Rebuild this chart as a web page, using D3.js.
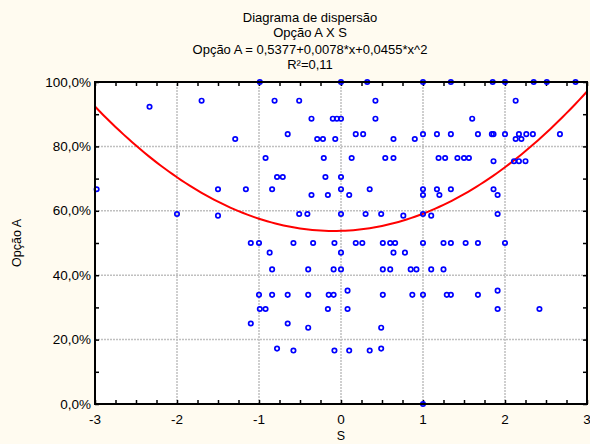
<!DOCTYPE html>
<html>
<head>
<meta charset="utf-8">
<script src="https://cdn.jsdelivr.net/npm/d3@7"></script>
<style>
  body { margin: 0; background: #fffbf0; }
  text { font-family: "Liberation Sans", Arial, sans-serif; font-size: 13.5px; fill: #000; }
</style>
</head>
<body>
<svg id="chart"></svg>
<script>
var width = 590,
    height = 444;

// S values (x) and Opção A values (y), one pair per respondent
var sValues = [
  -0.99, 0.0, 0.32, 1.0, 1.34, 1.85, 2.0, 2.35, 2.51, 2.86,
  -1.70, -0.81, -0.51, 0.42, 2.13,
  -2.335,
  -0.36, -0.10, -0.05, 0.0, 0.42, 1.60,
  -0.65, 0.18, 0.27, 1.0, 1.17, 1.34, 1.67, 1.84, 1.86, 2.0, 2.17, 2.26, 2.34, 2.67,
  -1.29, -0.29, -0.22, -0.07, 0.64, 0.90, 2.13, 2.20,
  -0.92, -0.21, 0.13, 0.54, 0.64, 1.19, 1.27, 1.42, 1.50, 1.56,
  1.86, 2.11, 2.17, 2.25,
  -0.78, -0.71, -0.19, 0.0,
  -2.98, -1.50, -1.16, -0.84, 0.0, 0.35, 1.0, 1.17, 1.34, 1.86,
  -0.36, -0.16, 0.10, 1.0, 1.20, 1.91,
  -2.0, -0.51, -0.41, 0.0, 0.30, 0.49, 1.0, 1.91,
  -1.50, 0.76, 1.10,
  -1.10, -1.0, -0.58, -0.34, -0.08, 0.18, 0.26, 0.51, 0.60, 0.66, 1.0, 1.25, 1.34, 1.52, 1.67, 2.0,
  -0.87, 0.0, 0.64, 0.78,
  -0.84, -0.40, -0.09, 0.0, 0.51, 0.60, 0.85, 0.92, 1.10, 1.25,
  0.08, 1.91,
  -1.0, -0.84, -0.65, -0.40, -0.15, -0.09, 0.51, 0.87, 1.0, 1.29, 1.34, 1.67,
  -0.99, -0.92, -0.16, 0.08, 1.91, 2.42,
  -1.10, -0.65,
  -0.40, 0.49,
  -0.78, 0.49,
  -0.58, -0.08, 0.10, 0.35,
  1.0
];
var opcaoA = [
  1, 1, 1, 1, 1, 1, 1, 1, 1, 1,
  0.942, 0.942, 0.942, 0.942, 0.942,
  0.923,
  0.886, 0.886, 0.886, 0.886, 0.886, 0.886,
  0.838, 0.838, 0.838, 0.838, 0.838, 0.838, 0.838, 0.838, 0.838, 0.838, 0.838, 0.838, 0.838, 0.838,
  0.823, 0.823, 0.823, 0.823, 0.823, 0.823, 0.823, 0.823,
  0.764, 0.764, 0.764, 0.764, 0.764, 0.764, 0.764, 0.764, 0.764, 0.764,
  0.754, 0.754, 0.754, 0.754,
  0.705, 0.705, 0.705, 0.705,
  0.667, 0.667, 0.667, 0.667, 0.667, 0.667, 0.667, 0.667, 0.667, 0.667,
  0.649, 0.649, 0.649, 0.649, 0.649, 0.649,
  0.590, 0.590, 0.590, 0.590, 0.590, 0.590, 0.590, 0.590,
  0.585, 0.585, 0.585,
  0.5, 0.5, 0.5, 0.5, 0.5, 0.5, 0.5, 0.5, 0.5, 0.5, 0.5, 0.5, 0.5, 0.5, 0.5, 0.5,
  0.47, 0.47, 0.47, 0.47,
  0.418, 0.418, 0.418, 0.418, 0.418, 0.418, 0.418, 0.418, 0.418, 0.418,
  0.352, 0.352,
  0.339, 0.339, 0.339, 0.339, 0.339, 0.339, 0.339, 0.339, 0.339, 0.339, 0.339, 0.339,
  0.295, 0.295, 0.295, 0.295, 0.295, 0.295,
  0.25, 0.25,
  0.237, 0.237,
  0.172, 0.172,
  0.166, 0.166, 0.166, 0.166,
  0
];

// fitted curve Opção A = 0,5377 + 0,0078*x + 0,0455*x^2
var fitCoef = [0.5377, 0.0078, 0.0455];
var xTicks = [-3, -2, -1, 0, 1, 2, 3];
var yTicks = [0, 0.2, 0.4, 0.6, 0.8, 1.0];
var titleLines = ["Diagrama de dispersão", "Opção A X S", "Opção A = 0,5377+0,0078*x+0,0455*x^2", "R²=0,11"];

var margin = {top: 82, right: 3, bottom: 40, left: 95};

var svg = d3.select('#chart')
            .attr('width', width)
            .attr('height', height);

svg.append('rect')
   .attr('width', width).attr('height', height)
   .attr('fill', '#fffbf0');

var x = d3.scaleLinear()
          .domain([-3, 3])
          .range([margin.left, width - margin.right]);
var y = d3.scaleLinear()
          .domain([0, 1])
          .range([height - margin.bottom, margin.top]);

// plot background
svg.append('rect')
   .attr('x', x(-3)).attr('y', y(1))
   .attr('width', x(3) - x(-3)).attr('height', y(0) - y(1))
   .attr('fill', '#fff');

// grid
var grid = svg.append('g').attr('class', 'grid');
grid.selectAll('.vgrid')
    .data(xTicks.slice(1, -1))
    .enter().append('line')
    .attr('x1', d => x(d)).attr('x2', d => x(d))
    .attr('y1', y(0)).attr('y2', y(1))
    .attr('stroke', '#c0c0c0').attr('stroke-width', 1.5)
    .attr('stroke-dasharray', '2,1');
grid.selectAll('.hgrid')
    .data(yTicks.slice(1, -1))
    .enter().append('line')
    .attr('y1', d => y(d)).attr('y2', d => y(d))
    .attr('x1', x(-3)).attr('x2', x(3))
    .attr('stroke', '#c0c0c0').attr('stroke-width', 1.5)
    .attr('stroke-dasharray', '2,1');

// axes with inward ticks
var minorX = d3.range(-3, 3.001, 0.25);
var minorY = d3.range(0, 1.001, 0.1);

svg.append('g')
   .attr('transform', 'translate(0,' + y(0) + ')')
   .call(d3.axisBottom(x).tickValues(minorX).tickSize(-4).tickFormat(''))
   .call(g => g.select('.domain').remove());
svg.append('g')
   .attr('transform', 'translate(0,' + y(1) + ')')
   .call(d3.axisTop(x).tickValues(minorX).tickSize(-4).tickFormat(''))
   .call(g => g.select('.domain').remove());
svg.append('g')
   .attr('transform', 'translate(' + x(-3) + ',0)')
   .call(d3.axisLeft(y).tickValues(minorY).tickSize(-4).tickFormat(''))
   .call(g => g.select('.domain').remove());
svg.append('g')
   .attr('transform', 'translate(' + x(3) + ',0)')
   .call(d3.axisRight(y).tickValues(minorY).tickSize(-4).tickFormat(''))
   .call(g => g.select('.domain').remove());
svg.selectAll('.tick line').attr('stroke', '#000').attr('stroke-width', 1.5);

// tick labels
svg.selectAll('.xlab')
   .data(xTicks)
   .enter().append('text')
   .attr('x', d => x(d)).attr('y', y(0) + 20)
   .attr('text-anchor', 'middle')
   .text(d => d);
var pct = d => d3.format('.1f')(d * 100).replace('.', ',') + '%';
svg.selectAll('.ylab')
   .data(yTicks)
   .enter().append('text')
   .attr('x', x(-3) - 4).attr('y', d => y(d) + 4.5)
   .attr('text-anchor', 'end')
   .text(pct);

// fitted curve
var curveX = d3.range(-3, 3.001, 0.05);
var line = d3.line()
             .x(d => x(d))
             .y(d => y(fitCoef[0] + fitCoef[1] * d + fitCoef[2] * d * d));
svg.append('path')
   .datum(curveX)
   .attr('d', line)
   .attr('fill', 'none')
   .attr('stroke', '#ff0000')
   .attr('stroke-width', 2);

// points
svg.append('g')
   .selectAll('circle')
   .data(sValues.map((s, i) => [s, opcaoA[i]]))
   .enter().append('circle')
   .attr('cx', d => x(d[0]))
   .attr('cy', d => y(d[1]))
   .attr('r', 2.2)
   .attr('fill', 'none')
   .attr('stroke', '#0000ff')
   .attr('stroke-width', 1.7);

// frame
svg.append('rect')
   .attr('x', x(-3)).attr('y', y(1))
   .attr('width', x(3) - x(-3)).attr('height', y(0) - y(1))
   .attr('fill', 'none')
   .attr('stroke', '#000')
   .attr('stroke-width', 2);

// titles
var titleY = [17, 32, 49, 64];
svg.selectAll('.title')
   .data(titleLines)
   .enter().append('text')
   .attr('x', 310).attr('y', (d, i) => titleY[i] + 5)
   .attr('text-anchor', 'middle')
   .style('font-size', '13px')
   .text(d => d);

svg.append('text')
   .attr('x', x(0)).attr('y', 440)
   .attr('text-anchor', 'middle')
   .style('font-size', '12.5px')
   .text('S');
svg.append('text')
   .attr('transform', 'translate(21,' + (y(0.5)) + ') rotate(-90)')
   .attr('text-anchor', 'middle')
   .style('font-size', '12.5px')
   .text('Opção A');
</script>
</body>
</html>
